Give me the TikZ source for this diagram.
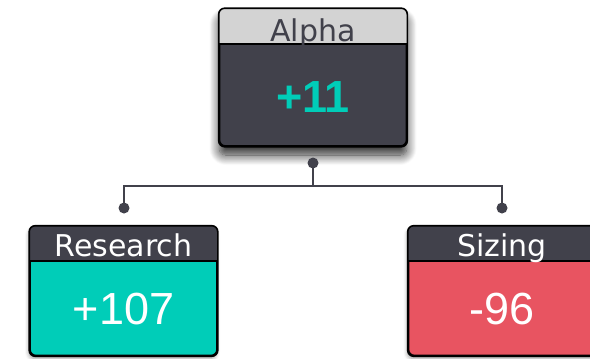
\documentclass[tikz,border=0pt]{standalone}
\usepackage{fontspec}
\setmainfont{Liberation Sans}
\newfontfamily\headfont{DejaVu Sans}
\usetikzlibrary{shadows.blur,calc}
\definecolor{darkbg}{HTML}{41414B}
\definecolor{lighthead}{HTML}{D3D3D3}
\definecolor{tealc}{HTML}{00CDB8}
\definecolor{redc}{HTML}{E85461}
\tikzset{
  card/.style={draw=black, line width=1.6pt, rounded corners=6pt, inner sep=0pt, minimum width=187pt, minimum height=129pt},
  bigshadow/.style={blur shadow={shadow xshift=0pt, shadow yshift=-9pt, shadow blur radius=10pt, shadow blur steps=12, shadow opacity=85}},
  smallshadow/.style={blur shadow={shadow xshift=-1pt, shadow yshift=-3pt, shadow blur radius=4pt, shadow opacity=40}},
  headtxt/.style={anchor=base, inner sep=0pt, font=\headfont\fontsize{30}{30}\selectfont},
  valtxt/.style={anchor=base, inner sep=0pt, font=\fontsize{45}{45}\selectfont},
  conn/.style={draw=darkbg, line width=1.5pt},
  dot/.style={fill=darkbg},
}
\begin{document}
\begin{tikzpicture}[x=1pt,y=-1pt]
\useasboundingbox (0,0) rectangle (590,359);
% Alpha
\node[card, bigshadow, fill=darkbg, minimum height=137pt] (alpha) at (313,77.5) {};
\begin{scope}
  \clip[rounded corners=6pt] (alpha.north west) rectangle (alpha.south east);
  \fill[lighthead] (alpha.north west) rectangle ($(alpha.north east)+(0,36)$);
\end{scope}
\draw[line width=1.6pt] ($(alpha.north west)+(0,36)$) -- ($(alpha.north east)+(0,36)$);
\draw[line width=1.6pt, rounded corners=6pt] (alpha.north west) rectangle (alpha.south east);
\node[headtxt, text=darkbg] (alphah) at (313,41) {Alpha};
\node[valtxt, text=tealc, font=\fontsize{45}{45}\selectfont\bfseries] (alphav) at (313,112) {+11};
% Research
\node[card, smallshadow, fill=tealc] (res) at (123.5,291) {};
\begin{scope}
  \clip[rounded corners=6pt] (res.north west) rectangle (res.south east);
  \fill[darkbg] (res.north west) rectangle ($(res.north east)+(0,35)$);
\end{scope}
\draw[line width=1.6pt] ($(res.north west)+(0,35)$) -- ($(res.north east)+(0,35)$);
\draw[line width=1.6pt, rounded corners=6pt] (res.north west) rectangle (res.south east);
\node[headtxt, text=white] (resh) at (123.5,256) {Research};
\node[valtxt, text=white] (resv) at (123.5,324) {+107};
% Sizing
\node[card, smallshadow, fill=redc] (siz) at (502,291) {};
\begin{scope}
  \clip[rounded corners=6pt] (siz.north west) rectangle (siz.south east);
  \fill[darkbg] (siz.north west) rectangle ($(siz.north east)+(0,35)$);
\end{scope}
\draw[line width=1.6pt] ($(siz.north west)+(0,35)$) -- ($(siz.north east)+(0,35)$);
\draw[line width=1.6pt, rounded corners=6pt] (siz.north west) rectangle (siz.south east);
\node[headtxt, text=white] (sizh) at (502,256) {Sizing};
\node[valtxt, text=white] (sizv) at (502,324) {-96};
% connectors
\coordinate (ad) at (313,163);
\coordinate (rd) at (124,208);
\coordinate (sd) at (502,208);
\coordinate (mid) at (313,186);
\draw[conn] (ad) -- (mid) -| (rd);
\draw[conn] (mid) -| (sd);
\fill[dot] (ad) circle (5.5pt);
\fill[dot] (rd) circle (5.5pt);
\fill[dot] (sd) circle (5.5pt);
\end{tikzpicture}
\end{document}
